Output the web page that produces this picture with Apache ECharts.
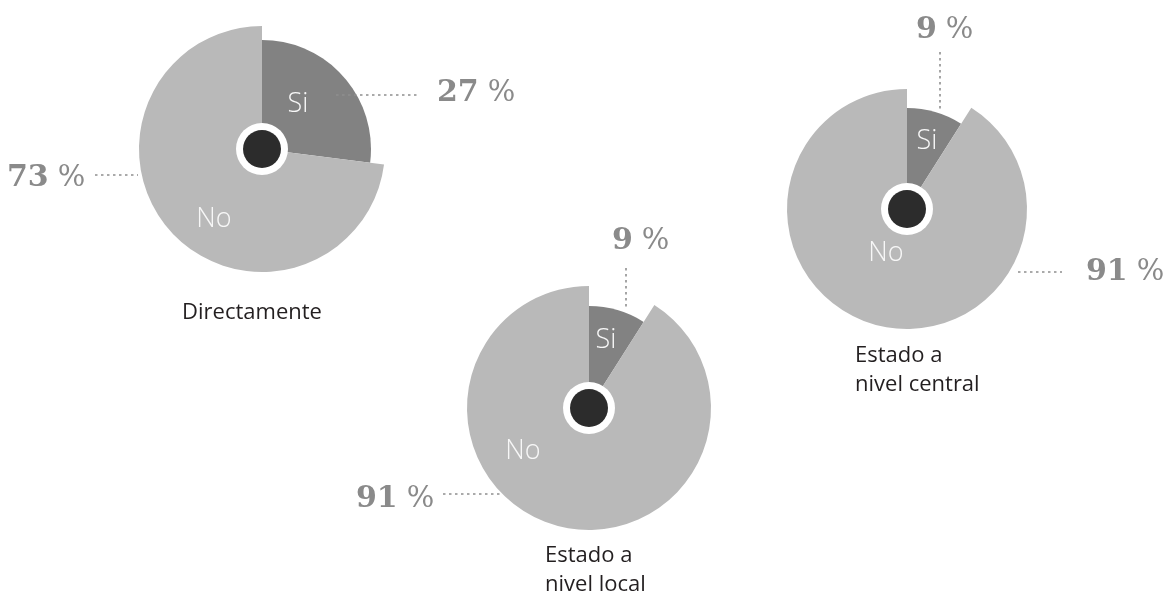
<!DOCTYPE html>
<html>
<head>
<meta charset="utf-8">
<script src="https://cdn.jsdelivr.net/npm/echarts@6/dist/echarts.min.js"></script>
<style>
  html, body { margin: 0; padding: 0; background: #ffffff; }
  #chart { width: 1168px; height: 601px; }
</style>
</head>
<body>
<div id="chart"></div>
<script>
// ---- data ----
const pieTitles = ['Directamente', 'Estado a\nnivel local', 'Estado a\nnivel central'];
const categories = ['Si', 'No'];
const siValues = [27, 9, 9];
const noValues = [73, 91, 91];

// ---- layout (pixels) ----
const pies = [
  { center: [262, 149], rSi: 109, rNo: 123,
    siText: [298, 104], noText: [214, 219],
    siPct: [437, 93], noPct: [7, 178],
    siLead: [336, 95, 419, 95], noLead: [95, 175, 138, 175],
    title: { left: 252, top: 298, align: 'center' } },
  { center: [589, 408], rSi: 102, rNo: 122,
    siText: [606, 340], noText: [523, 451],
    siPct: [612, 241], noPct: [356, 499],
    siLead: [626, 268, 626, 308], noLead: [443, 494, 500, 494],
    title: { left: 545, top: 541, align: 'left' } },
  { center: [907, 209], rSi: 101, rNo: 120,
    siText: [927, 141], noText: [886, 253],
    siPct: [916, 30], noPct: [1086, 272],
    siLead: [940, 52, 940, 110], noLead: [1018, 272, 1062, 272],
    title: { left: 855, top: 341, align: 'left' } }
];

const SI_COLOR = '#828282';
const NO_COLOR = '#b9b9b9';
const PCT_COLOR = '#8a8a8a';

const pctLabel = {
  show: true,
  position: 'outside',
  formatter: p => '{n|' + p.value + '}{s|%}',
  rich: {
    n: { fontFamily: '"DejaVu Serif", serif', fontWeight: 'bold', fontSize: 30, color: PCT_COLOR },
    s: { fontFamily: '"DejaVu Serif", serif', fontWeight: 'normal', fontSize: 29, color: PCT_COLOR,
         padding: [0, 0, 0, 9] }
  }
};
const nameLabel = {
  show: true,
  position: 'inside',
  formatter: p => p.name,
  fontFamily: '"Open Sans", sans-serif',
  fontWeight: 300,
  fontSize: 27,
  color: '#f7f7f7'
};
const hidden = { color: 'rgba(0,0,0,0)' };

const series = [];
const graphic = [];
const titles = [];

pies.forEach((cfg, i) => {
  const base = {
    type: 'pie',
    center: cfg.center,
    startAngle: 90,
    clockwise: true,
    silent: true,
    animation: false,
    avoidLabelOverlap: false,
    emphasis: { disabled: true },
    labelLine: { show: false }
  };

  // dark "Si" sector (smaller radius); its neighbour carries the "No" percentage
  series.push(Object.assign({}, base, {
    name: 'inner' + i,
    radius: [0, cfg.rSi],
    data: [
      { name: categories[0], value: siValues[i], itemStyle: { color: SI_COLOR }, label: nameLabel },
      { name: categories[1], value: noValues[i], itemStyle: hidden, label: pctLabel }
    ],
    labelLayout: p => p.dataIndex === 0
      ? { x: cfg.siText[0], y: cfg.siText[1], align: 'center', verticalAlign: 'middle' }
      : { x: cfg.noPct[0], y: cfg.noPct[1], align: 'left', verticalAlign: 'middle' }
  }));

  // light "No" sector (larger radius); its neighbour carries the "Si" percentage
  series.push(Object.assign({}, base, {
    name: 'outer' + i,
    radius: [0, cfg.rNo],
    data: [
      { name: categories[0], value: siValues[i], itemStyle: hidden, label: pctLabel },
      { name: categories[1], value: noValues[i], itemStyle: { color: NO_COLOR }, label: nameLabel }
    ],
    labelLayout: p => p.dataIndex === 0
      ? { x: cfg.siPct[0], y: cfg.siPct[1], align: 'left', verticalAlign: 'middle' }
      : { x: cfg.noText[0], y: cfg.noText[1], align: 'center', verticalAlign: 'middle' }
  }));

  // centre hub: white ring with dark core
  series.push(Object.assign({}, base, {
    name: 'ring' + i, radius: [0, 26], z: 3,
    label: { show: false },
    data: [{ value: 1, itemStyle: { color: '#ffffff' } }]
  }));
  series.push(Object.assign({}, base, {
    name: 'hub' + i, radius: [0, 19], z: 4,
    label: { show: false },
    data: [{ value: 1, itemStyle: { color: '#2c2c2c' } }]
  }));

  // dotted leader lines
  [cfg.siLead, cfg.noLead].forEach(l => {
    graphic.push({
      type: 'line', z: 100, silent: true,
      shape: { x1: l[0], y1: l[1], x2: l[2], y2: l[3] },
      style: { stroke: '#8f8f8f', lineWidth: 1.6, lineDash: [2.5, 3.5] }
    });
  });

  titles.push({
    text: pieTitles[i],
    left: cfg.title.left,
    top: cfg.title.top,
    textAlign: cfg.title.align,
    padding: 0,
    textStyle: {
      fontFamily: '"Open Sans", sans-serif',
      fontWeight: 'normal',
      fontSize: 22,
      lineHeight: 29,
      color: '#231f20'
    }
  });
});

const chart = echarts.init(document.getElementById('chart'), null, { renderer: 'canvas' });
chart.setOption({
  backgroundColor: '#ffffff',
  animation: false,
  title: titles,
  series: series,
  graphic: graphic
});
</script>
</body>
</html>
